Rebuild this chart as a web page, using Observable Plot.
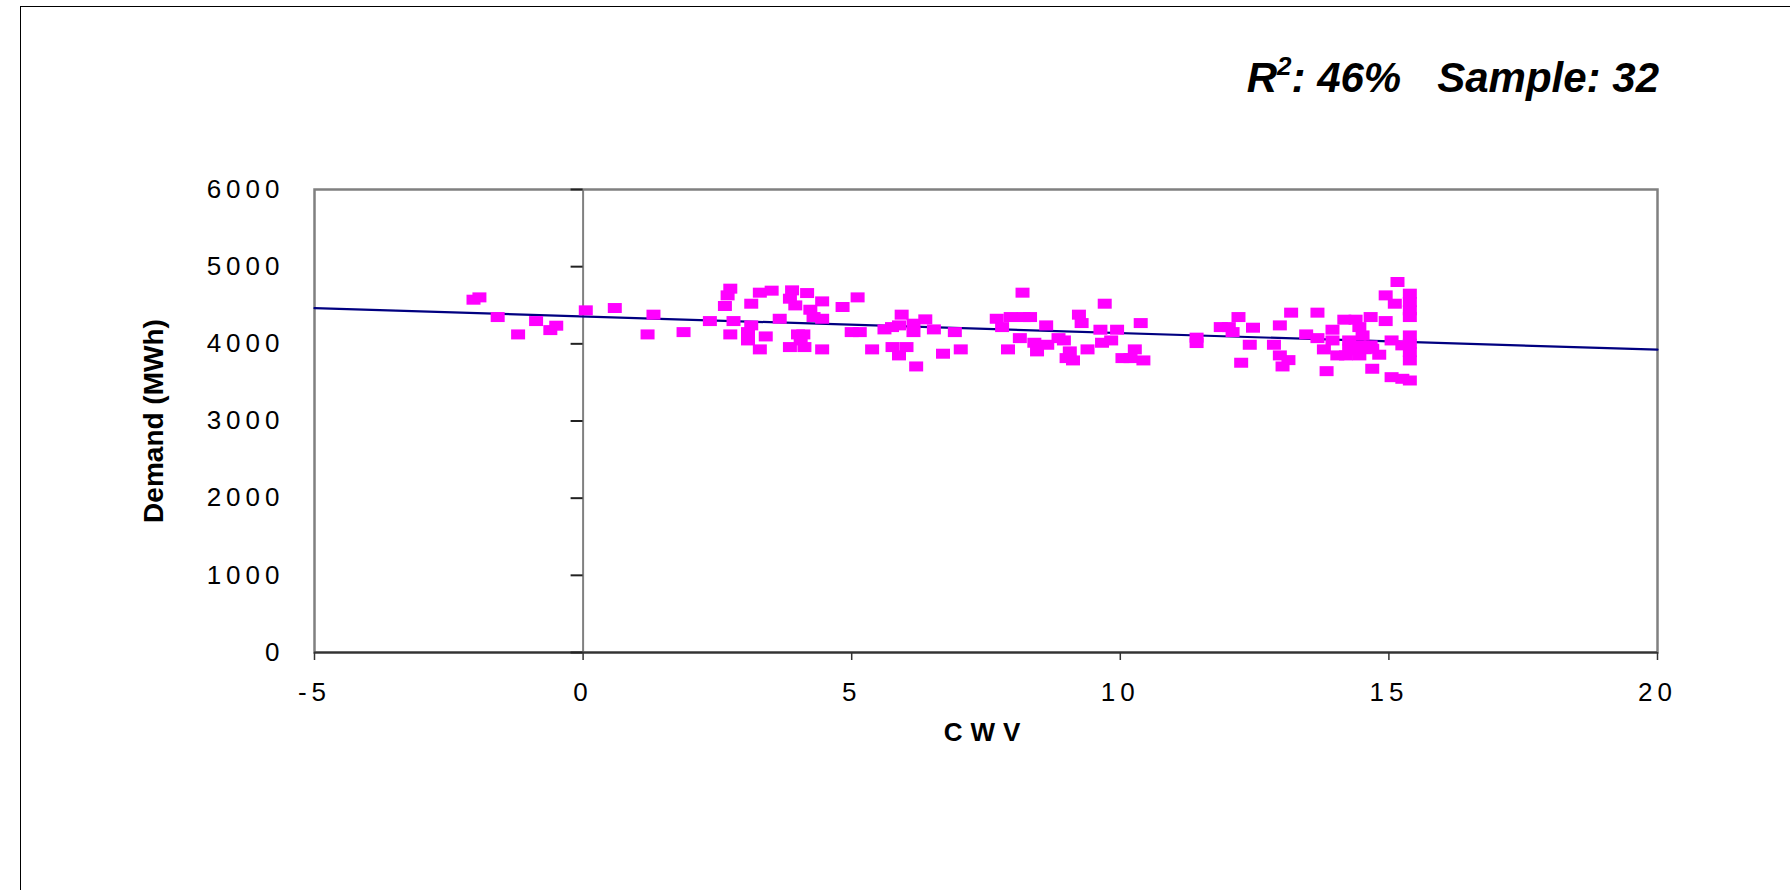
<!DOCTYPE html>
<html>
<head>
<meta charset="utf-8">
<script src="https://cdn.jsdelivr.net/npm/d3@7"></script>
<script src="https://cdn.jsdelivr.net/npm/@observablehq/plot@0.6"></script>
<style>
  html, body { margin: 0; padding: 0; background: #fff; }
  #chart { position: relative; width: 1790px; height: 890px; overflow: hidden;
           font-family: "Liberation Sans", Arial, sans-serif; }
  #outline { position: absolute; left: 20px; top: 6px; right: -10px; bottom: -10px;
             border-left: 1.5px solid #000; border-top: 1.5px solid #000; }
  #stats { position: absolute; right: 131px; top: 57px; white-space: nowrap;
           font: italic bold 42px/42px "Liberation Sans", Arial, sans-serif; color: #000; }
  #stats .sup { font-size: 26px; position: relative; top: -17px; }
  #stats .gap { margin-left: 36px; }
  #plot { position: absolute; left: 0; top: 0; }
  #plot g[aria-label="y-axis tick label"] { letter-spacing: 5px; }
  #plot g[aria-label="x-axis tick label"] { letter-spacing: 5px; }
  #plot g[aria-label="x-axis label"] { font-weight: bold; letter-spacing: 8px; }
  #plot g[aria-label="y-axis label"] { font-weight: bold; font-size: 28px; }
</style>
</head>
<body>
<div id="chart">
  <div id="outline"></div>
  <div id="stats"></div>
  <div id="plot"></div>
</div>
<script>
// Daily demand against composite weather variable
const cwv = [
  -2.04, -1.93, -1.59, -1.21, -0.875, -0.61, -0.50, 0.05, 0.59, 1.31,
  1.20, 1.87, 2.36, 2.74, 2.69, 2.64, 2.80, 2.74, 3.13, 3.29,
  3.51, 3.13, 3.07, 3.07, 3.40, 3.29, 3.66, 3.89, 3.85, 3.95,
  4.17, 4.23, 4.45, 4.29, 4.45, 4.83, 5.11, 4.00, 4.10, 4.05,
  3.85, 4.12, 4.45, 5.00, 5.15, 5.38, 5.61, 5.75, 5.88, 5.93,
  5.76, 5.88, 6.02, 6.15, 6.15, 6.37, 6.53, 6.20, 6.92, 6.70,
  7.03, 8.18, 7.70, 7.80, 7.96, 8.20, 8.32, 8.62, 8.13, 7.91,
  8.40, 8.45, 8.64, 8.85, 8.95, 9.06, 9.00, 9.12, 9.23, 9.28,
  9.39, 9.71, 9.63, 9.94, 9.66, 9.83, 10.38, 10.27, 10.04, 10.19,
  10.43, 11.42, 11.42, 11.87, 12.02, 12.09, 12.20, 12.47, 12.41, 12.25,
  12.97, 13.18, 12.86, 12.97, 13.13, 13.02, 13.67, 13.46, 13.67, 13.84,
  13.79, 13.95, 13.95, 14.04, 14.17, 14.38, 14.26, 14.26, 14.20, 14.45,
  14.51, 14.45, 14.45, 14.66, 14.66, 14.82, 14.69, 14.94, 15.05, 15.05,
  14.94, 15.11, 15.16, 15.25, 15.39, 15.39, 15.39, 15.39, 15.39, 15.39,
  15.39, 15.39, 15.25, 15.39, 14.41, 14.69, 14.55
];
const demand = [
  4572, 4602, 4347, 4122, 4295, 4178, 4235, 4434, 4464, 4378,
  4122, 4152, 4295, 4715, 4628, 4490, 4295, 4122, 4520, 4663,
  4689, 4239, 4152, 4044, 4096, 3928, 4325, 4693, 4585, 4498,
  4658, 4442, 4550, 4347, 4325, 4477, 4602, 4122, 4122, 4044,
  3958, 3958, 3928, 4152, 4152, 3928, 4187, 4217, 4239, 4378,
  3958, 3850, 3958, 4261, 4152, 4317, 4187, 3707, 4152, 3872,
  3928, 4663, 4325, 4217, 4347, 4347, 4347, 4239, 4074, 3928,
  4014, 3902, 3988, 4074, 4044, 3902, 3815, 3785, 4378, 4269,
  3928, 4520, 4183, 4183, 4014, 4044, 4269, 3928, 3815, 3815,
  3785, 4080, 4010, 4217, 4217, 4152, 4347, 4209, 3988, 3755,
  4239, 4404, 3988, 3850, 3789, 3707, 4404, 4122, 4074, 3646,
  3928, 4183, 4044, 3850, 4313, 4313, 4044, 3928, 3850, 4217,
  4109, 3980, 3850, 4347, 3980, 3859, 3677, 4295, 4044, 3568,
  4628, 4520, 4801, 3980, 4650, 4541, 4434, 4347, 4109, 4001,
  3893, 3785, 3547, 3525, 3915, 3937, 3930
];

// Fitted trend line end points
const trendCwv = [-5, 20];
const trendDemand = [4463, 3924];

const xTicks = [-5, 0, 5, 10, 15, 20];
const yTicks = [0, 1000, 2000, 3000, 4000, 5000, 6000];

const rSquared = "46%";
const sampleSize = "32";

const points = cwv.map((x, i) => ({x, y: demand[i]}));
const trend = trendCwv.map((x, i) => ({x, y: trendDemand[i]}));

document.getElementById("stats").innerHTML =
  `R<span class="sup">2</span>: ${rSquared}<span class="gap">Sample: ${sampleSize}</span>`;

const width = 1790, height = 890;
const marginLeft = 314, marginRight = 133;
const xDomain = [-5, 20];
// Length of the y ticks on the x = 0 axis, 12px expressed in CWV units
const yTickLen = 12 * (xDomain[1] - xDomain[0]) / (width - marginLeft - marginRight);
const yAxisTicks = yTicks.map(v => ({value: v, from: -yTickLen, to: 0}));

// Filled marker: a 14×10 rectangle centred on the point
const rectMarker = { draw(ctx) { ctx.rect(-7, -5, 14, 10); } };

const chart = Plot.plot({
  width,
  height,
  marginLeft,
  marginRight,
  marginTop: 189,
  marginBottom: 238,
  style: {
    fontFamily: "'Liberation Sans', Arial, sans-serif",
    fontSize: "26px",
    color: "#000",
    background: "transparent"
  },
  x: { domain: xDomain },
  y: { domain: [0, 6000] },
  marks: [
    Plot.frame({ stroke: "#808080", strokeWidth: 2.5 }),
    Plot.ruleX([0], { stroke: "#808080", strokeWidth: 2 }),
    Plot.ruleY([0], { stroke: "#333", strokeWidth: 2 }),
    Plot.ruleY(yAxisTicks, { y: "value", x1: "from", x2: "to", stroke: "#222", strokeWidth: 2 }),
    Plot.line(trend, { x: "x", y: "y", stroke: "#000080", strokeWidth: 2.2 }),
    Plot.dot(points, { x: "x", y: "y", symbol: rectMarker, fill: "#FF00FF", stroke: "none" }),
    Plot.axisY({
      ticks: yTicks, tickSize: 0, tickPadding: 30, tickFormat: d => String(d),
      label: "Demand (MWh)", labelAnchor: "center", labelArrow: "none", labelOffset: 171
    }),
    Plot.axisX({
      ticks: xTicks, tickSize: 8, tickPadding: 22, tickFormat: d => String(d),
      stroke: "#333", strokeWidth: 1.5,
      label: "CWV", labelAnchor: "center", labelArrow: "none", labelOffset: 88
    })
  ]
});
document.getElementById("plot").appendChild(chart);
</script>
</body>
</html>
